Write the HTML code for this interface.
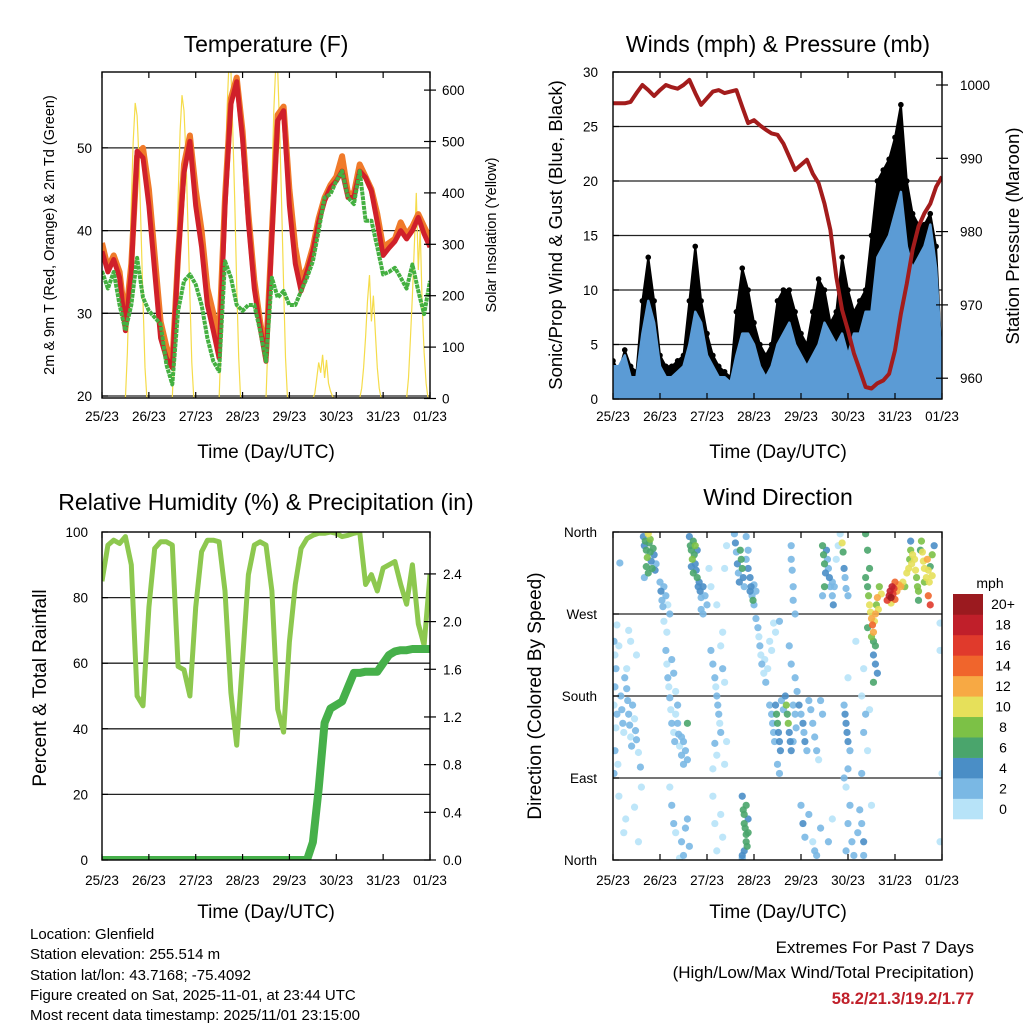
<!DOCTYPE html>
<html><head><meta charset="utf-8"><title>Station Meteogram</title>
<style>
html,body{margin:0;padding:0;background:#fff;}
svg{display:block;font-family:"Liberation Sans",Arial,sans-serif;}
</style></head>
<body>
<svg id="fig" width="1024" height="1024" viewBox="0 0 1024 1024" xmlns="http://www.w3.org/2000/svg">
<defs>
<clipPath id="c1"><rect x="102" y="72" width="328" height="326"/></clipPath>
<clipPath id="c2"><rect x="613" y="72" width="329" height="327"/></clipPath>
<clipPath id="c3"><rect x="102" y="532" width="328" height="328"/></clipPath>
<clipPath id="c4"><rect x="613" y="532" width="329" height="328"/></clipPath>
</defs>
<rect width="1024" height="1024" fill="#fff"/>

<text x="266" y="52" font-size="23" text-anchor="middle">Temperature (F)</text>
<text x="778" y="52" font-size="23" text-anchor="middle">Winds (mph) &amp; Pressure (mb)</text>
<text x="266" y="510" font-size="23" text-anchor="middle">Relative Humidity (%) &amp; Precipitation (in)</text>
<text x="778" y="505" font-size="23" text-anchor="middle">Wind Direction</text>

<text x="266" y="458" font-size="19" text-anchor="middle">Time (Day/UTC)</text>
<text x="778" y="458" font-size="19" text-anchor="middle">Time (Day/UTC)</text>
<text x="266" y="918" font-size="19" text-anchor="middle">Time (Day/UTC)</text>
<text x="778" y="918" font-size="19" text-anchor="middle">Time (Day/UTC)</text>

<text transform="translate(54,235) rotate(-90)" font-size="14.5" text-anchor="middle">2m &amp; 9m T (Red, Orange) &amp; 2m Td (Green)</text>
<text transform="translate(496,235) rotate(-90)" font-size="14.5" text-anchor="middle">Solar Insolation (Yellow)</text>
<text transform="translate(562,235) rotate(-90)" font-size="18.5" text-anchor="middle">Sonic/Prop Wind &amp; Gust (Blue, Black)</text>
<text transform="translate(1019,236) rotate(-90)" font-size="18.5" text-anchor="middle">Station Pressure (Maroon)</text>
<text transform="translate(46,688) rotate(-90)" font-size="19" text-anchor="middle">Percent &amp; Total Rainfall</text>
<text transform="translate(541,696) rotate(-90)" font-size="19" text-anchor="middle">Direction (Colored By Speed)</text>

<g id="grid"></g>
<g id="marks"></g>
<g id="axes"></g>

<g id="cbar">
<text x="990" y="588" font-size="14" text-anchor="middle">mph</text>
</g>

<g font-size="15">
<text x="30" y="939">Location: Glenfield</text>
<text x="30" y="959">Station elevation: 255.514 m</text>
<text x="30" y="980">Station lat/lon: 43.7168; -75.4092</text>
<text x="30" y="1000">Figure created on Sat, 2025-11-01, at 23:44 UTC</text>
<text x="30" y="1020">Most recent data timestamp: 2025/11/01 23:15:00</text>
</g>
<text x="974" y="953" font-size="17" text-anchor="end">Extremes For Past 7 Days</text>
<text x="974" y="978" font-size="17" text-anchor="end">(High/Low/Max Wind/Total Precipitation)</text>
<text x="974" y="1004" font-size="16.5" font-weight="bold" fill="#c0202a" text-anchor="end">58.2/21.3/19.2/1.77</text>
</svg>

<script>
// ---------- DATA ----------
const hours = [0,3,6,9,12,15,18,21,24,27,30,33,36,39,42,45,48,51,54,57,60,63,66,69,72,75,78,81,84,87,90,93,96,99,102,105,108,111,114,117,120,123,126,129,132,135,138,141,144,147,150,153,156,159,162,165,168];
const dayLabels = ["25/23","26/23","27/23","28/23","29/23","30/23","31/23","01/23"];
const tempRed = [37.5,35,36.5,34.3,27.9,35,49.6,48.8,43,35,27,24.6,23.4,36.7,47,50.8,43,38,31,27.9,24.6,43,55.3,58,51,41,33,28.3,24.2,39.2,53.3,54.5,43,36,32.7,35,37.5,41,43.6,45.2,46,47.2,44,44,47.2,46.4,44.8,41,37,37.9,38.7,40,39,40,41.6,39.6,38];
const tempOrange = [38.5,35.5,37,35,29,36,49,50,45,37,29,26,24,37,48,51.5,45,40,33,30,27,44,56,58.5,52,42,34,29,25,40,54,55,45,38,34,35.5,38,41.5,44,45.5,46.5,49,44.5,44.5,48,46.5,45,42,38,38.5,39,41,39.5,40.5,42,40.5,39];
const dewpoint = [35.1,33,35,31,27.9,31,36.7,31.9,30.3,29.5,28.7,23.8,21.4,30.3,33.9,34.7,33.5,31,27,24.2,23,36.3,34.3,31,30.3,31,31,27.9,24.2,34.3,31.9,32.7,31,31,32.7,34.3,36.3,40,44,44.4,46,47.2,44,43.2,47.2,41.2,41.2,38,34.7,35,35.5,34.3,33,35.9,32.7,29.9,33.9];
const insolHours = [12,13,14,15,16,17,18,19,20,21,22,23];
const insolDay0 = [0,90,230,380,500,575,550,460,330,190,60,0];
const insolDay1 = [0,100,240,390,520,590,560,470,340,200,70,0];
const insolDay2 = [0,110,260,420,560,650,640,520,380,220,80,0];
const insolDay3 = [0,110,260,420,560,650,640,520,380,220,80,0];
const insolDay4 = [0,10,40,70,50,85,40,75,30,15,5,0];
const insolDay5 = [0,20,60,120,190,240,150,200,130,60,20,0];
const insolDay6 = [0,40,120,200,300,400,250,330,180,90,30,0];
const pressure = [997.5,997.5,997.5,997.7,998.9,1000,999.3,998.5,999.3,1000,999.7,999.5,1000,1000.7,998.9,997.3,998.2,999.1,999.3,998.9,999.1,999.3,997,994.8,995.2,994.5,993.9,993.4,993.2,992,990.2,988.4,989.1,989.8,987.9,986.6,983.8,980.2,973.8,969.3,966.5,963.4,961.1,958.8,958.6,959.3,959.7,960.6,963.8,968.8,972.9,977.5,980.7,982.5,983.8,986.1,987.5];
const windHi = [3,3,4,2,2,6,9,7,3,2,2,2.5,3,5,8,7,4,3,2,2,1.5,4,6,6,5,3,2,3,5,6,7,5,4,3,4,5,7,6,5,6,4,6,6,8,8,13,14,15,17,19,14,12,13,14,16,12,3];
const gust = [3.5,2.5,4.5,3,2.5,9,13,9,4,3,3,3.5,4,9,14,9,6,4,3,2.5,2,8,12,10,7,5,4,5,9,10,10,8,6,5,8,11,10,7,8,13,10,8,9,10,15,20,21,22,24,27,20,17,16,16,17,14,3];
const rh = [85,96,97.5,96.5,98.6,90,50,47,77,95,97,97,96,59,58,50,77,94,97.5,97.5,97,82,51,35,61,87,96,97,96,82,46,39,66.5,84,95,98,99,99.6,99.6,100,99.6,98.6,99,99.6,100,84,87,82,89,90,91,84,78,90,72,65.5,87];
const precip = [0,0,0,0,0,0,0,0,0,0,0,0,0,0,0,0,0,0,0,0,0,0,0,0,0,0,0,0,0,0,0,0,0,0,0,0,0.15,0.6,1.15,1.27,1.3,1.33,1.45,1.57,1.57,1.58,1.58,1.58,1.65,1.72,1.75,1.76,1.76,1.77,1.77,1.77,1.77];
const dirT = [0.5,1,1.5,1,0.5,2,1.5,1,2.5,0.5,3,4,4.5,5,5.5,6,7,7.5,8,8.5,9,9.5,10,11,11.5,12,13,14,8,9,3,5.5,6.5,11,13,14.5,7,12,2,
15.5,16,16.5,17,17.5,18,18.5,19,19.5,20,20.5,21,21.5,22,18,17,19,3.5,16,
24,24.5,25,25.5,26,27,28,29,26,27.5,
27,27.5,28,28.5,29,29.5,30,31,31.5,32,33,33.5,34,35,36,30,31,32,33,35,36,37,38,29,30,31,32,35,36,37,38,34,39,38,
39,39.5,40,40.5,41,41.5,42,42.5,43,43.5,44,44.5,45,46,47,48,41,42,40,43,45,46,
50,51,52,52.5,53,53.5,54,54.5,55,52,53,51,55,56,56,57,58,57,51,52,53,55,56,49,50,53,57,58,
62,62.5,63,63.5,64,64.5,65,65.5,66,66.5,67,68,69,70,70.5,71,72,70,71.5,69,72,73,68,
66,66.5,67,67,67.5,68,68,68.5,67,66,69,68,69,66,
73,74,74.5,75,75.5,76,77,77.5,78,79,80,81,82,83,85,
80,81,81.5,82,82.5,83,83.5,84,84.5,85,85.5,86,87,88,88.5,89,89.5,90,90.5,91,92,93,93.5,84,85,92,
91,91,91.5,92,92,93,90,91,93,94,
95,96,97,97.5,98,99,100,101,102,103,104,105,96,97,98,100,102,103,104,106,107,106,
107,107.5,108,108.5,109,109.5,110,110.5,111,112,112.5,113,114,115,116,117,117.5,118,118.5,119,120,108,112,107,
118,118.5,119,119.5,120,121,120,118,119,121,120,122,119,123,125,126,127,128,128,127,128,129,127,128,124,
129,130,130.5,131,131.5,132,132.5,133,133.5,134,134.5,135,135.5,133,134,131,130,129,130,132,136,137,133,134,135,133,
140,141,141.5,142,142.5,143,143.5,144,145,146,144,147,142,148,
150,151,151.5,152,152.5,153,154,154.5,155,155.5,156,157,157.5,158,158.5,159,160,160.5,161,161.5,162,163,164,161,152,149,162,163,159,156,
167,167,168,167,130,131,132,120,110,112];
const dirDeg = [240,225,210,190,170,160,145,120,105,95,235,180,165,150,140,200,188,175,160,148,135,125,170,155,142,132,118,102,252,240,70,30,45,58,20,80,210,225,258,
355,345,350,340,332,358,348,338,328,320,342,335,318,325,315,322,352,326,310,
305,295,285,278,300,290,280,270,262,250,
230,215,200,190,178,165,150,140,130,160,150,138,125,115,105,220,205,185,170,135,130,120,110,80,60,40,30,20,5,35,45,2,15,150,
355,345,340,330,350,335,325,318,310,300,305,295,288,300,290,280,315,345,322,340,275,270,
230,215,200,190,180,170,160,150,140,128,115,100,235,250,210,195,130,105,70,40,10,50,25,320,300,280,320,345,
358,348,338,325,315,305,340,330,320,310,300,330,320,310,300,290,280,295,285,340,302,295,355,
70,55,50,40,35,28,20,15,10,5,45,60,30,2,
265,255,245,235,225,215,205,220,195,210,240,230,260,250,262,
170,160,150,140,130,170,160,150,140,130,120,175,165,180,170,160,150,140,130,120,170,160,145,105,95,130,
345,330,318,300,285,270,235,215,200,185,
170,160,150,140,130,120,175,165,150,135,120,110,60,40,25,50,20,10,5,35,160,175,
345,335,325,315,340,330,320,310,300,290,280,300,330,345,358,348,338,320,310,298,290,300,305,290,
170,160,150,140,130,120,100,90,80,60,40,20,10,5,30,55,40,20,5,95,140,160,180,210,240,
310,300,290,280,272,265,258,250,262,270,280,288,275,240,235,320,340,358,255,245,300,292,225,215,205,195,
285,290,295,288,300,292,298,305,295,302,286,300,282,305,
315,320,330,340,325,335,330,318,310,300,295,340,350,338,328,320,310,330,318,305,322,335,345,290,350,300,280,312,305,285,
260,230,95,20,120,165,60,200,20,45];
const dirSpd = [2,1,2,2,1,2,1,2,1,2,1,2,2,2,1,2,2,2,2,2,1,2,2,1,2,2,1,2,1,1,1,1,1,1,1,1,1,1,1,
4,5,7,6,8,10,7,6,5,6,7,4,4,3,6,7,8,3,3,
3,4,3,3,2,2,1,2,1,1,
2,1,2,1,2,1,2,1,2,1,2,2,1,3,3,2,2,1,2,2,3,2,3,1,2,2,1,2,3,2,3,1,2,6,
4,6,7,8,7,6,5,4,6,4,4,4,3,4,3,2,6,8,5,4,3,2,
2,2,2,1,2,2,2,1,2,2,1,1,1,1,2,1,1,1,1,1,1,1,1,1,1,1,1,1,
3,4,3,4,3,4,6,7,6,4,3,3,4,4,4,3,3,4,6,3,3,2,3,
4,6,7,6,7,6,7,6,4,4,4,6,6,3,
2,2,1,2,1,2,1,1,2,1,1,1,1,1,2,
2,3,3,3,2,4,6,6,5,4,4,3,3,4,8,7,8,5,4,4,3,3,2,3,3,2,
3,3,3,2,3,2,3,2,3,2,
4,3,4,3,4,2,3,2,2,2,2,1,3,4,2,2,1,3,2,2,2,3,
6,7,6,5,4,3,3,4,3,3,4,2,1,1,1,10,6,4,3,3,2,6,3,3,
3,4,4,4,4,3,3,2,1,2,2,3,2,2,3,3,2,4,3,3,3,3,1,1,1,
7,6,8,10,11,12,14,12,10,12,9,13,11,7,6,7,6,6,6,8,8,11,4,4,4,6,
16,18,19,20,18,17,16,14,13,12,15,12,11,11,
10,11,9,8,10,11,10,10,9,8,8,7,9,10,11,10,10,12,10,11,6,9,4,14,5,8,16,10,8,7,
1,1,1,1,1,1,1,1,2,1];
const speedColors = ["#b7e3f8","#7ab8e4","#4a8ec6","#4aa56c","#7cc146","#e6e05a","#f7a944","#f0652c","#e03a2c","#c01f2a","#9b1a1f"];
const speedLabels = ["0","2","4","6","8","10","12","14","16","18","20+"];
const tempTicks = [20,30,40,50];
const insolTicks = [0,100,200,300,400,500,600];
const windTicks = [0,5,10,15,20,25,30];
const presTicks = [960,970,980,990,1000];
const rhTicks = [0,20,40,60,80,100];
const precipTicks = [0.0,0.4,0.8,1.2,1.6,2.0,2.4];
const dirTicks = [0,90,180,270,360];
const dirLabels = ["North","East","South","West","North"];

// ---------- SCALES ----------
const NS = "http://www.w3.org/2000/svg";
const xL = t => 102 + t * 328 / 168;
const xR = t => 613 + t * 329 / 168;
const yTemp = v => 396 - (v - 20) * 8.27;
const yIns = v => 398.5 - v * 0.514;
const yWind = v => 399 - v * 10.9;
const yPres = v => 85 + (1000 - v) * 7.33;
const yRh = v => 860 - v * 3.28;
const yPr = v => 860 - v * 119.2;
const yDir = v => 860 - v * 328 / 360;

function mk(tag, parent) { const e = document.createElementNS(NS, tag); parent.appendChild(e); return e; }
const grid = document.getElementById("grid");
const marks = document.getElementById("marks");
const axes = document.getElementById("axes");
const cbar = document.getElementById("cbar");

function pathFrom(xs, ys) { return xs.map((x, i) => (i ? "L" : "M") + x.toFixed(1) + "," + ys[i].toFixed(1)).join(""); }

// ---------- GRID ----------
function hline(x0, x1, y, col, w) {
  const l = mk("line", grid);
  
  
  l.setAttribute("x1", x0); l.setAttribute("x2", x1); l.setAttribute("y1", y); l.setAttribute("y2", y);
  l.setAttribute("stroke", col); l.setAttribute("stroke-width", w);
}
tempTicks.forEach(v => hline(102, 430, yTemp(v), "#222", 1.3));
windTicks.forEach(v => hline(613, 942, yWind(v), "#222", 1.3));
rhTicks.slice(1, 5).forEach(v => hline(102, 430, yRh(v), "#222", 1.3));
dirTicks.slice(1, 4).forEach(v => hline(613, 942, yDir(v), "#222", 1.3));

// ---------- PANEL 1 ----------
const g1 = mk("g", marks); g1.setAttribute("clip-path", "url(#c1)");


const insolDays = [insolDay0, insolDay1, insolDay2, insolDay3, insolDay4, insolDay5, insolDay6];
insolDays.forEach((arr, d) => {
  const p = mk("path", g1);
  
  
  p.setAttribute("d", pathFrom(insolHours.map(h => xL(24 * d + h)), arr.map(yIns)));
  p.setAttribute("fill", "none"); p.setAttribute("stroke", "#f5dc4a"); p.setAttribute("stroke-width", "1.2");
});
const tO = mk("path", g1);


tO.setAttribute("d", pathFrom(hours.map(xL), tempOrange.map(yTemp)));
tO.setAttribute("fill", "none"); tO.setAttribute("stroke", "#f07a2a"); tO.setAttribute("stroke-width", "6"); tO.setAttribute("stroke-linejoin", "round");
const tR = mk("path", g1);


tR.setAttribute("d", pathFrom(hours.map(xL), tempRed.map(yTemp)));
tR.setAttribute("fill", "none"); tR.setAttribute("stroke", "#d0202a"); tR.setAttribute("stroke-width", "5"); tR.setAttribute("stroke-linejoin", "round");
const tD = mk("path", g1);


tD.setAttribute("d", pathFrom(hours.map(xL), dewpoint.map(yTemp)));
tD.setAttribute("fill", "none"); tD.setAttribute("stroke", "#44b041"); tD.setAttribute("stroke-width", "4"); tD.setAttribute("stroke-dasharray", "4 0.8"); tD.setAttribute("stroke-linejoin", "round");

// ---------- PANEL 2 ----------
const g2 = mk("g", marks); g2.setAttribute("clip-path", "url(#c2)");


const gA = mk("path", g2);


gA.setAttribute("d", pathFrom(hours.map(xR), gust.map(yWind)) + "L" + xR(168) + "," + yWind(0) + "L" + xR(0) + "," + yWind(0) + "Z");
gA.setAttribute("fill", "#000"); gA.setAttribute("stroke", "#000"); gA.setAttribute("stroke-width", "2"); gA.setAttribute("stroke-linejoin", "round");
hours.forEach((t, i) => {
  const c = mk("circle", g2);
  
  
  c.setAttribute("cx", xR(t)); c.setAttribute("cy", yWind(gust[i])); c.setAttribute("r", 2.8); c.setAttribute("fill", "#000");
});
const bA = mk("path", g2);


bA.setAttribute("d", pathFrom(hours.map(xR), windHi.map(yWind)) + "L" + xR(168) + "," + yWind(0) + "L" + xR(0) + "," + yWind(0) + "Z");
bA.setAttribute("fill", "#5b9bd5"); bA.setAttribute("stroke", "#5b9bd5"); bA.setAttribute("stroke-width", "2.5"); bA.setAttribute("stroke-linejoin", "round");
const pL = mk("path", g2);


pL.setAttribute("d", pathFrom(hours.map(xR), pressure.map(yPres)));
pL.setAttribute("fill", "none"); pL.setAttribute("stroke", "#a31c1c"); pL.setAttribute("stroke-width", "4"); pL.setAttribute("stroke-linejoin", "round");

// ---------- PANEL 3 ----------
const g3 = mk("g", marks); g3.setAttribute("clip-path", "url(#c3)");


const rL = mk("path", g3);


rL.setAttribute("d", pathFrom(hours.map(xL), rh.map(yRh)));
rL.setAttribute("fill", "none"); rL.setAttribute("stroke", "#8dc84f"); rL.setAttribute("stroke-width", "5"); rL.setAttribute("stroke-linejoin", "round");
const prL = mk("path", g3);


prL.setAttribute("d", pathFrom(hours.map(xL), precip.map(yPr)));
prL.setAttribute("fill", "none"); prL.setAttribute("stroke", "#46b04a"); prL.setAttribute("stroke-width", "8"); prL.setAttribute("stroke-linejoin", "round");

// ---------- PANEL 4 ----------
const g4 = mk("g", marks); g4.setAttribute("clip-path", "url(#c4)");


const order = dirT.map((_, i) => i).sort((a, b) => dirSpd[a] - dirSpd[b]);
order.forEach(i => {
  const c = mk("circle", g4);
  
  
  const bin = Math.min(10, Math.floor(dirSpd[i] / 2));
  c.setAttribute("cx", xR(dirT[i])); c.setAttribute("cy", yDir(dirDeg[i])); c.setAttribute("r", 3.6);
  c.setAttribute("fill", speedColors[bin]); c.setAttribute("fill-opacity", "0.9");
});

// ---------- COLORBAR ----------
speedColors.forEach((col, i) => {
  const r = mk("rect", cbar);
  
  
  const y = 819 - (i + 1) * 225 / 11;
  r.setAttribute("x", 953); r.setAttribute("y", y); r.setAttribute("width", 30); r.setAttribute("height", 225 / 11 + 0.3); r.setAttribute("fill", col);
  const t = mk("text", cbar);
  
  
  t.setAttribute("x", 1003); t.setAttribute("y", y + 225 / 22 + 5); t.setAttribute("font-size", "14"); t.setAttribute("text-anchor", "middle");
  t.textContent = speedLabels[i];
});

// ---------- AXES ----------
function frame(x0, y0, x1, y1) {
  const r = mk("rect", axes);
  
  
  r.setAttribute("x", x0); r.setAttribute("y", y0); r.setAttribute("width", x1 - x0); r.setAttribute("height", y1 - y0);
  r.setAttribute("fill", "none"); r.setAttribute("stroke", "#000"); r.setAttribute("stroke-width", "1.4");
}
function tick(x1, y1, x2, y2) {
  const l = mk("line", axes);
  
  
  l.setAttribute("x1", x1); l.setAttribute("y1", y1); l.setAttribute("x2", x2); l.setAttribute("y2", y2);
  l.setAttribute("stroke", "#000"); l.setAttribute("stroke-width", "1.2");
}
function label(x, y, s, anchor, size) {
  const t = mk("text", axes);
  
  
  t.setAttribute("x", x); t.setAttribute("y", y); t.setAttribute("text-anchor", anchor); t.setAttribute("font-size", size);
  t.textContent = s;
}
frame(102, 72, 430, 398); frame(613, 72, 942, 399); frame(102, 532, 430, 860); frame(613, 532, 942, 860);
dayLabels.forEach((s, d) => {
  const a = xL(24 * d), b = xR(24 * d);
  tick(a, 72, a, 78); tick(a, 398, a, 392); tick(a, 532, a, 538); tick(a, 860, a, 854);
  tick(b, 72, b, 78); tick(b, 399, b, 393); tick(b, 532, b, 538); tick(b, 860, b, 854);
  label(a, 421, s, "middle", 13.5); label(b, 421, s, "middle", 13.5);
  label(a, 885, s, "middle", 13.5); label(b, 885, s, "middle", 13.5);
});
tempTicks.forEach(v => { tick(102, yTemp(v), 108, yTemp(v)); label(92, yTemp(v) + 5, String(v), "end", 13.5); });
insolTicks.forEach(v => { tick(430, yIns(v), 424, yIns(v)); tick(430, yIns(v), 436, yIns(v)); label(442, yIns(v) + 5, String(v), "start", 13.5); });
windTicks.forEach(v => { tick(613, yWind(v), 619, yWind(v)); label(598, yWind(v) + 5, String(v), "end", 13.5); });
presTicks.forEach(v => { tick(942, yPres(v), 936, yPres(v)); tick(942, yPres(v), 948, yPres(v)); label(960, yPres(v) + 5, String(v), "start", 13.5); });
rhTicks.forEach(v => { tick(102, yRh(v), 108, yRh(v)); label(88, yRh(v) + 5, String(v), "end", 13.5); });
precipTicks.forEach(v => { tick(430, yPr(v), 424, yPr(v)); tick(430, yPr(v), 436, yPr(v)); label(443, yPr(v) + 5, v.toFixed(1), "start", 13.5); });
dirTicks.forEach((v, i) => { tick(613, yDir(v), 619, yDir(v)); label(597, yDir(v) + 5, dirLabels[i], "end", 13.5); });
</script>
</body></html>
